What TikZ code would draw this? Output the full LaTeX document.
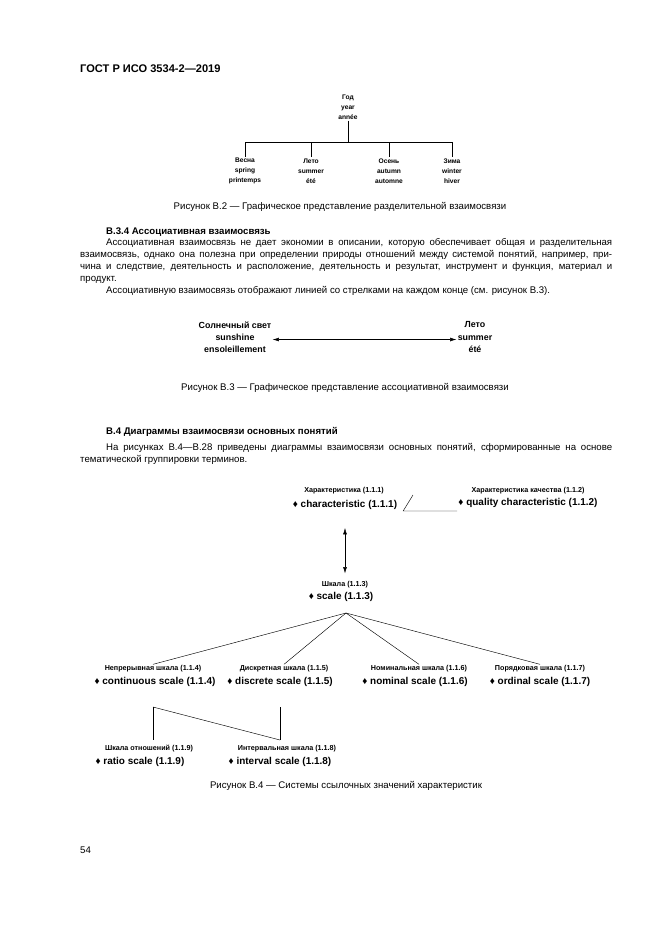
\documentclass[tikz,border=0pt]{standalone}
\usepackage{fontspec}
\setmainfont{Liberation Sans}
\usetikzlibrary{arrows.meta}

\begin{document}
\begin{tikzpicture}[x=0.3175mm,y=-0.3175mm,
    every node/.style={inner sep=1pt},
    term/.style={font=\fontsize{6}{9}\selectfont\bfseries,align=center},
    word/.style={font=\fontsize{8}{11}\selectfont\bfseries,align=center},
    rlab/.style={font=\fontsize{6.5}{7}\selectfont\bfseries},
    elab/.style={font=\fontsize{9}{10}\selectfont\bfseries},
    capt/.style={font=\fontsize{8.7}{11}\selectfont},
    head/.style={font=\fontsize{8.7}{11}\selectfont\bfseries,anchor=base west,inner sep=0pt},
    para/.style={font=\fontsize{8.7}{11}\selectfont,text width=168.9mm,align=justify,anchor=base west,inner sep=0pt},
    assoc/.style={{Latex[length=2mm,width=1.2mm]}-{Latex[length=2mm,width=1.2mm]}},
    ]
    \useasboundingbox (0,0) rectangle (661,935);

    \node[head,font=\fontsize{10}{12}\selectfont\bfseries] (T) at (80,72) {ГОСТ Р ИСО 3534-2—2019};

    % figure B.2
    \node[term] (G) at (348,107) {Год\\year\\année};
    \node[term] (V) at (245,171) {Весна\\spring\\printemps};
    \node[term] (L) at (311,171) {Лето\\summer\\été};
    \node[term] (O) at (389,171) {Осень\\autumn\\automne};
    \node[term] (Z) at (452,171) {Зима\\winter\\hiver};
    \coordinate (J) at (348,142);

    \draw (G) -- (J);
    \draw (J) -| (V);
    \draw (J) -| (L);
    \draw (J) -| (O);
    \draw (J) -| (Z);

    \node[capt] (C2) at (340,207) {Рисунок В.2 — Графическое представление разделительной взаимосвязи};

    \node[head] (H1) at (106,234.5) {В.3.4 Ассоциативная взаимосвязь};
    \node[para] (P1) at (80,245) {\hyphenpenalty=10000\hspace*{8.25mm}Ассоциативная взаимосвязь не дает экономии в описании, которую обеспечивает общая и разделительная\linebreak взаимосвязь, однако она полезна при определении природы отношений между системой понятий, например, при-\linebreak чина и следствие, деятельность и расположение, деятельность и результат, инструмент и функция, материал и\linebreak продукт.\par
    \hspace*{8.25mm}Ассоциативную взаимосвязь отображают линией со стрелками на каждом конце (см. рисунок В.3).};

    % figure B.3
    \node[word] (S) at (235,337) {Солнечный свет\\sunshine\\ensoleillement};
    \node[word] (E) at (475,337) {Лето\\summer\\été};
    \draw[assoc] ([yshift=-0.8mm]S.east) -- ([yshift=-0.8mm]E.west);

    \node[capt] (C3) at (345,388) {Рисунок В.3 — Графическое представление ассоциативной взаимосвязи};

    \node[head] (H2) at (106,434.5) {В.4 Диаграммы взаимосвязи основных понятий};
    \node[para] (P2) at (80,450) {\hyphenpenalty=10000\hspace*{8.25mm}На рисунках В.4—В.28 приведены диаграммы взаимосвязи основных понятий, сформированные на основе\linebreak тематической группировки терминов.};

    % figure B.4
    \node[rlab] (R1) at (344,491) {Характеристика (1.1.1)};
    \node[elab] (E1) at (345,505) {♦ characteristic (1.1.1)};
    \node[rlab] (R2) at (528,491) {Характеристика качества (1.1.2)};
    \node[elab] (E2) at (528,503) {♦ quality characteristic (1.1.2)};
    \node[rlab] (R3) at (345,585) {Шкала (1.1.3)};
    \node[elab] (E3) at (341,597) {♦ scale (1.1.3)};
    \node[rlab] (R4) at (153,669) {Непрерывная шкала (1.1.4)};
    \node[elab] (E4) at (155,682) {♦ continuous scale (1.1.4)};
    \node[rlab] (R5) at (284,669) {Дискретная шкала (1.1.5)};
    \node[elab] (E5) at (280,682) {♦ discrete scale (1.1.5)};
    \node[rlab] (R6) at (419,669) {Номинальная шкала (1.1.6)};
    \node[elab] (E6) at (415,682) {♦ nominal scale (1.1.6)};
    \node[rlab] (R7) at (540,669) {Порядковая шкала (1.1.7)};
    \node[elab] (E7) at (540,682) {♦ ordinal scale (1.1.7)};
    \node[rlab] (R9) at (149,749) {Шкала отношений (1.1.9)};
    \node[elab] (E9) at (140,762) {♦ ratio scale (1.1.9)};
    \node[rlab] (R8) at (287,749) {Интервальная шкала (1.1.8)};
    \node[elab] (E8) at (280,762) {♦ interval scale (1.1.8)};

    \coordinate (q) at (413,495);
    \draw (q) -- ([xshift=1.5mm]E1.south east) -- (E1.south east -| E2.west);
    \draw[assoc,shorten <=5.4mm,shorten >=2.2mm] (E1.south) -- (R3.north);

    \coordinate (A) at (346,613);
    \draw (A) -- (R4.north);
    \draw (A) -- (R5.north);
    \draw (A) -- (R6.north);
    \draw (A) -- (R7.north);

    \coordinate (r1) at (153,707);
    \coordinate (r2) at (280,707);
    \coordinate (s1) at (153,740);
    \coordinate (s2) at (280,740);
    \draw (r1) -- (s1);
    \draw (r2) -- (s2);
    \draw (r1) -- (s2);

    \node[capt] (C4) at (346,786) {Рисунок В.4 — Системы ссылочных значений характеристик};

    \node[head] (N) at (80,853) {\mdseries 54};
\end{tikzpicture}
\end{document}
